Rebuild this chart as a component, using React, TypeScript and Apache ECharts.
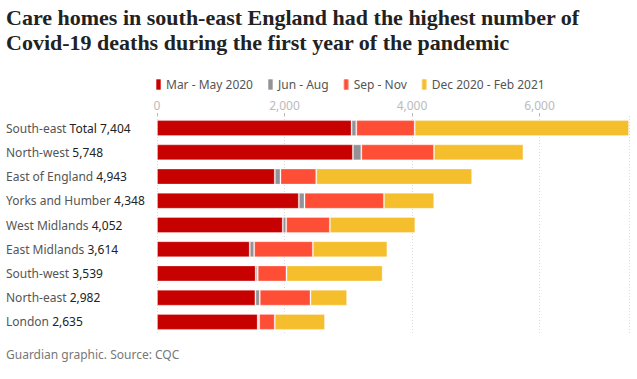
import React, { useEffect, useRef } from "react";
import * as echarts from "echarts";

const categories = [
  "South-east",
  "North-west",
  "East of England",
  "Yorks and Humber",
  "West Midlands",
  "East Midlands",
  "South-west",
  "North-east",
  "London",
];
const totals = [7404, 5748, 4943, 4348, 4052, 3614, 3539, 2982, 2635];
const marMay = [3052, 3073, 1848, 2225, 1973, 1455, 1549, 1544, 1580];
const junAug = [74, 132, 89, 89, 53, 69, 31, 68, 22];
const sepNov = [916, 1140, 561, 1246, 686, 921, 451, 796, 245];
const decFeb = [3362, 1403, 2445, 788, 1340, 1169, 1508, 574, 788];
const seriesNames = ["Mar - May 2020", "Jun - Aug", "Sep - Nov", "Dec 2020 - Feb 2021"];
const xTicks = [0, 2000, 4000, 6000];

const titleLines = [
  "Care homes in south-east England had the highest number of",
  "Covid-19 deaths during the first year of the pandemic",
];
const sourceText = "Guardian graphic. Source: CQC";

const colors = ["#c70000", "#929297", "#ff4e36", "#f5be2c"];
const SANS = "'Noto Sans', sans-serif";

export default function App() {
  const ref = useRef<HTMLDivElement>(null);
  useEffect(() => {
    if (!ref.current) return;
    const chart = echarts.init(ref.current, null, { renderer: "svg" });
    const dataSets = [marMay, junAug, sepNov, decFeb];
    chart.setOption({
      animation: false,
      backgroundColor: "#fff",
      textStyle: { fontFamily: SANS },
      title: {
        text: titleLines.join("\n"),
        left: 1,
        top: 0,
        textStyle: {
          fontFamily: "'Liberation Serif', serif",
          fontWeight: "bold",
          fontSize: 22,
          lineHeight: 25,
          color: "#222",
        },
      },
      graphic: [
        {
          type: "text",
          left: 6,
          top: 348,
          style: { text: sourceText, fontFamily: SANS, fontSize: 12, fill: "#777" },
        },
      ],
      legend: {
        top: 78,
        left: 155,
        padding: 0,
        icon: "roundRect",
        itemWidth: 5,
        itemHeight: 11,
        itemGap: 14,
        textStyle: { fontSize: 12, color: "#555", fontFamily: SANS },
        data: seriesNames,
      },
      grid: { left: 157, top: 116, width: 472, height: 218, containLabel: false },
      xAxis: {
        type: "value",
        position: "top",
        min: 0,
        max: totals[0],
        interval: 2000,
        axisLine: { show: false },
        axisTick: { show: true, length: 3, lineStyle: { color: "#bbb" } },
        axisLabel: {
          margin: 5,
          color: "#bbb",
          fontSize: 12,
          showMaxLabel: false,
          formatter: (v: number) => (xTicks.includes(v) ? v.toLocaleString("en-US") : ""),
        },
        splitLine: { show: true, lineStyle: { color: "#ddd", type: [1, 2] } },
      },
      yAxis: {
        type: "category",
        inverse: true,
        data: categories,
        axisLine: { show: false },
        axisTick: { show: false },
        axisLabel: {
          align: "left",
          margin: 151,
          formatter: (v: string, i: number) =>
            `{n|${v}} {v|${i === 0 ? "Total " : ""}${totals[i].toLocaleString("en-US")}}`,
          rich: {
            n: { color: "#555", fontSize: 12, fontFamily: SANS },
            v: { color: "#222", fontSize: 12, fontFamily: SANS },
          },
        },
      },
      series: seriesNames.map((name, k) => ({
        name,
        type: "bar",
        stack: "total",
        barWidth: 16,
        data: dataSets[k],
        itemStyle: { color: colors[k], borderColor: "rgba(255,255,255,0.3)", borderWidth: 1 },
      })),
    });
    return () => chart.dispose();
  }, []);
  return (
    <div
      ref={ref}
      style={{ position: "fixed", left: 0, top: 0, width: 637, height: 379 }}
    />
  );
}
